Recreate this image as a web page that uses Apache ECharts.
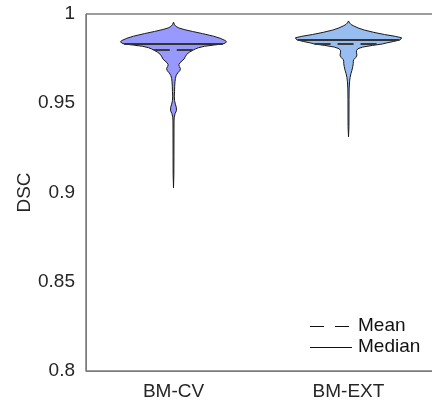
<!DOCTYPE html>
<html>
<head>
<meta charset="utf-8">
<script src="https://cdn.jsdelivr.net/npm/echarts@6/dist/echarts.min.js"></script>
<style>html,body{margin:0;padding:0;background:#fff}#c{width:432px;height:406px}</style>
</head>
<body>
<div id="c"></div>
<script>
// ---- data ----
const categories = ['BM-CV', 'BM-EXT'];
const yTicks = [0.8, 0.85, 0.9, 0.95, 1];
// violin profiles: [DSC value, relative density (max = 1)]
const profileCV = [
  [0.9954, 0], [0.9940, 0.02], [0.9930, 0.05], [0.9922, 0.1], [0.9913, 0.2],
  [0.9902, 0.36], [0.9890, 0.55], [0.9876, 0.75], [0.9864, 0.88], [0.9852, 0.97],
  [0.9845, 1.0], [0.9838, 0.98], [0.9832, 0.93], [0.9826, 0.76], [0.9819, 0.58],
  [0.9811, 0.47], [0.9804, 0.41], [0.9796, 0.36], [0.9786, 0.3], [0.9774, 0.25],
  [0.9760, 0.22], [0.9748, 0.2], [0.9737, 0.16], [0.9726, 0.12], [0.9716, 0.1],
  [0.9706, 0.11], [0.9695, 0.13], [0.9683, 0.12], [0.9670, 0.08], [0.9655, 0.05],
  [0.9638, 0.035], [0.9620, 0.028], [0.9595, 0.022], [0.9565, 0.02], [0.9540, 0.015],
  [0.9515, 0.02], [0.9495, 0.035], [0.9475, 0.055], [0.9458, 0.055], [0.9442, 0.03],
  [0.9422, 0.014], [0.9400, 0.01], [0.9300, 0.009], [0.9200, 0.008], [0.9100, 0.007],
  [0.9025, 0]
];
const profileEXT = [
  [0.9961, 0], [0.9950, 0.02], [0.9941, 0.05], [0.9933, 0.1], [0.9922, 0.18],
  [0.9910, 0.3], [0.9897, 0.48], [0.9885, 0.68], [0.9875, 0.88], [0.9867, 1.0],
  [0.9860, 0.99], [0.9854, 0.96], [0.9846, 0.85], [0.9838, 0.72], [0.9832, 0.64],
  [0.9824, 0.45], [0.9815, 0.27], [0.9806, 0.18], [0.9795, 0.15], [0.9783, 0.15],
  [0.9770, 0.16], [0.9757, 0.14], [0.9745, 0.1], [0.9735, 0.09], [0.9722, 0.09],
  [0.9705, 0.08], [0.9685, 0.065], [0.9665, 0.045], [0.9645, 0.03], [0.9620, 0.02],
  [0.9580, 0.012], [0.9520, 0.01], [0.9440, 0.009], [0.9370, 0.008], [0.9311, 0]
];
const medians = [0.9832, 0.9854];
const means = [0.9798, 0.9832];
const profiles = [profileCV, profileEXT];
const colors = ['#9899ff', '#98bdf0'];

// ---- chart ----
const FONT = 'Liberation Sans, Arial, Helvetica, sans-serif';
const FS = 19;
const chart = echarts.init(document.getElementById('c'), null, {renderer: 'canvas'});

function densityAt(prof, v) {
  for (let i = 0; i < prof.length - 1; i++) {
    const a = prof[i], b = prof[i + 1];
    if (v <= a[0] && v >= b[0]) {
      const t = (a[0] - v) / (a[0] - b[0]);
      return a[1] + t * (b[1] - a[1]);
    }
  }
  return 0;
}

function renderViolin(params, api) {
  const ci = api.value(0);
  const prof = profiles[ci];
  const band = api.size([1, 0])[0];
  const maxHalf = band * 0.303;
  const left = [], right = [];
  prof.forEach(p => {
    const c = api.coord([ci, p[0]]);
    left.push([c[0] - p[1] * maxHalf, c[1]]);
    right.push([c[0] + p[1] * maxHalf, c[1]]);
  });
  const pts = left.concat(right.reverse());
  const children = [{
    type: 'polygon',
    shape: {points: pts},
    style: {fill: colors[ci], stroke: '#1a1a1a', lineWidth: 1}
  }];
  const med = medians[ci], mn = means[ci];
  const cm = api.coord([ci, med]);
  const hm = densityAt(prof, med) * maxHalf;
  children.push({
    type: 'line',
    shape: {x1: cm[0] - hm, y1: cm[1], x2: cm[0] + hm, y2: cm[1]},
    style: {stroke: '#333333', lineWidth: 2}
  });
  const cmean = api.coord([ci, mn]);
  const hmean = densityAt(prof, mn) * maxHalf;
  children.push({
    type: 'line',
    shape: {x1: cmean[0] - hmean, y1: cmean[1], x2: cmean[0] + hmean, y2: cmean[1]},
    style: {stroke: '#3a3a3a', lineWidth: 2, lineDash: [16, 7]}
  });
  return {type: 'group', children};
}

const option = {
  animation: false,
  backgroundColor: '#ffffff',
  grid: {
    left: 86, top: 14, width: 350, height: 357,
    show: true, borderColor: '#3a3a3a', borderWidth: 1,
    containLabel: false, outerBoundsMode: 'none'
  },
  xAxis: {
    type: 'category',
    data: categories,
    boundaryGap: true,
    axisLine: {show: true, lineStyle: {color: '#7a7a7a', width: 1}},
    axisTick: {show: false},
    axisLabel: {color: '#262626', fontSize: FS, fontFamily: FONT, margin: 11},
    splitLine: {show: false}
  },
  yAxis: {
    type: 'value',
    min: yTicks[0], max: yTicks[yTicks.length - 1], interval: 0.05,
    name: 'DSC',
    nameLocation: 'middle',
    nameGap: 52,
    nameMoveOverlap: false,
    nameRotate: 90,
    nameTextStyle: {color: '#262626', fontSize: FS, fontFamily: FONT},
    axisLine: {show: true, lineStyle: {color: '#7a7a7a', width: 1}},
    axisTick: {show: false},
    axisLabel: {color: '#262626', fontSize: FS, fontFamily: FONT, margin: 11},
    splitLine: {show: false}
  },
  series: [{
    type: 'custom',
    renderItem: renderViolin,
    data: categories.map((c, i) => [i]),
    encode: {x: 0},
    clip: false
  }],
  graphic: [
    {type: 'line', shape: {x1: 310, y1: 326.5, x2: 352, y2: 326.5},
     style: {stroke: '#111', lineWidth: 1.2, lineDash: [14, 11]}},
    {type: 'text', x: 358, y: 326,
     style: {text: 'Mean', fill: '#111', font: FS + 'px ' + FONT, verticalAlign: 'middle'}},
    {type: 'line', shape: {x1: 310, y1: 347.5, x2: 352, y2: 347.5},
     style: {stroke: '#111', lineWidth: 1.2}},
    {type: 'text', x: 358, y: 347,
     style: {text: 'Median', fill: '#111', font: FS + 'px ' + FONT, verticalAlign: 'middle'}}
  ]
};
chart.setOption(option);
</script>
</body>
</html>
